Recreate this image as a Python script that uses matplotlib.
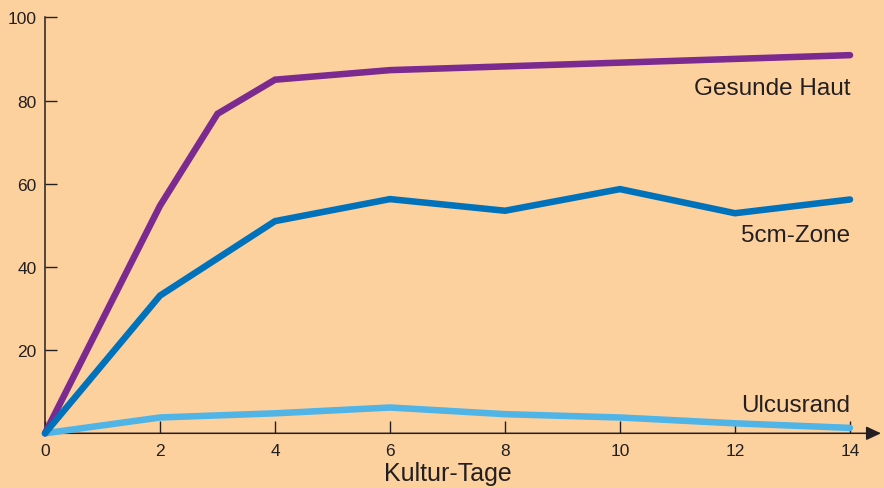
import matplotlib
matplotlib.use("Agg")
import matplotlib.pyplot as plt

days_haut = [0, 2, 3, 4, 6, 8, 10, 12, 14]
gesunde_haut = [0, 54.7, 76.8, 85.0, 87.3, 88.2, 89.1, 90.0, 90.9]

days = [0, 2, 4, 6, 8, 10, 12, 14]
zone_5cm = [0, 33.1, 51.0, 56.3, 53.5, 58.7, 52.9, 56.2]
ulcusrand = [0, 3.8, 4.8, 6.2, 4.6, 3.8, 2.4, 1.3]

xticks = [0, 2, 4, 6, 8, 10, 12, 14]
yticks = [20, 40, 60, 80, 100]

bg = "#FDD19E"
ink = "#231F20"
plt.rcParams['font.family'] = ['Liberation Sans', 'DejaVu Sans']

fig = plt.figure(figsize=(8.84, 4.89), dpi=100, facecolor=bg)
W, H = 884, 489
x0, x1 = 45, 850
ytop, ybot = 18.3, 434.3
ax = fig.add_axes([x0 / W, (H - ybot) / H, (x1 - x0) / W, (ybot - ytop) / H])
ax.set_facecolor(bg)
ax.set_xlim(0, 14)
ax.set_ylim(0, 100)

lw = 4.7
ax.plot(days_haut, gesunde_haut, color="#7B2A8F", lw=lw, solid_capstyle='round',
        solid_joinstyle='miter', clip_on=False, zorder=3)
ax.plot(days, zone_5cm, color="#0072BC", lw=lw, solid_capstyle='round',
        solid_joinstyle='miter', clip_on=False, zorder=3)
ax.plot(days, ulcusrand, color="#50B4E6", lw=lw, solid_capstyle='round',
        solid_joinstyle='miter', clip_on=False, zorder=2)

fs_lab = 17.5
ax.text(14, 81.6, "Gesunde Haut", ha='right', va='baseline', fontsize=fs_lab, color=ink)
ax.text(14, 46.3, "5cm-Zone", ha='right', va='baseline', fontsize=fs_lab, color=ink)
ax.text(14, 5.3, "Ulcusrand", ha='right', va='baseline', fontsize=fs_lab, color=ink)

for s in ['top', 'right', 'bottom']:
    ax.spines[s].set_visible(False)
ax.spines['left'].set_color(ink)
ax.spines['left'].set_linewidth(1.1)

# x-axis line with arrow
ax.annotate('', xy=(1.0385, 0), xytext=(0, 0), xycoords='axes fraction',
            textcoords='axes fraction',
            arrowprops=dict(arrowstyle='-|>,head_length=0.9,head_width=0.42',
                            color=ink, lw=1.1, shrinkA=0, shrinkB=0),
            zorder=1, annotation_clip=False)

ax.set_xticks(xticks)
ax.set_yticks(yticks)
ax.tick_params(direction='in', length=8.6, width=1.0, color=ink,
               labelsize=12.5, labelcolor=ink)
ax.tick_params(axis='x', pad=7)
ax.tick_params(axis='y', pad=6)
ax.set_xticklabels([str(v) for v in xticks])
ax.set_yticklabels([str(v) for v in yticks])
ax.set_xlabel("Kultur-Tage", fontsize=18, color=ink, labelpad=2)

fig.savefig("out.png", dpi=100, facecolor=bg)
